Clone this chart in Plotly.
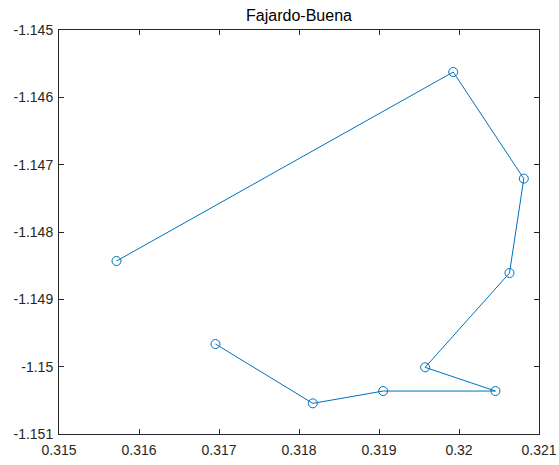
import plotly.graph_objects as go

x_vals = [0.315719, 0.319928, 0.320810, 0.320631, 0.319577, 0.320456, 0.319052, 0.318173, 0.316956]
y_vals = [-1.148431, -1.145624, -1.147208, -1.148609, -1.150010, -1.150362, -1.150362, -1.150545, -1.149664]

x_ticks = [0.315, 0.316, 0.317, 0.318, 0.319, 0.320, 0.321]
x_ticklabels = ["0.315", "0.316", "0.317", "0.318", "0.319", "0.32", "0.321"]
y_ticks = [-1.145, -1.146, -1.147, -1.148, -1.149, -1.150, -1.151]
y_ticklabels = ["-1.145", "-1.146", "-1.147", "-1.148", "-1.149", "-1.15", "-1.151"]

title_text = "Fajardo-Buena"

axis_color = "#262626"
font_family = "Liberation Sans, Arial, sans-serif"

fig = go.Figure()
fig.add_trace(go.Scatter(
    x=x_vals, y=y_vals, mode="lines+markers",
    line=dict(color="#0072BD", width=1),
    marker=dict(symbol="circle-open", size=9, color="#0072BD", line=dict(width=1)),
    showlegend=False,
))

common = dict(
    showgrid=False, zeroline=False, showline=True, linecolor=axis_color, linewidth=1,
    mirror="ticks", ticks="inside", ticklen=5, tickwidth=1, tickcolor=axis_color,
    tickfont=dict(family=font_family, size=14, color=axis_color),
    automargin=False,
)

fig.update_layout(
    width=559, height=465,
    margin=dict(l=59, r=20, t=30, b=31),
    paper_bgcolor="white", plot_bgcolor="white",
    title=dict(text=title_text, x=299 / 559, xanchor="center", y=1 - 15 / 465, yanchor="middle",
               font=dict(family=font_family, size=16, color="#000000")),
    xaxis=dict(range=[0.315, 0.321], tickvals=x_ticks, ticktext=x_ticklabels, ticklabelstandoff=3, **common),
    yaxis=dict(range=[-1.151, -1.145], tickvals=y_ticks, ticktext=y_ticklabels, ticklabelstandoff=2, **common),
)

fig.write_html("out.html")
